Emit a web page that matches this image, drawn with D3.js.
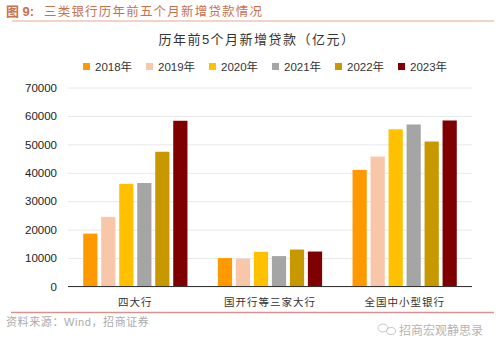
<!DOCTYPE html>
<html><head><meta charset="utf-8">
<script src="https://cdn.jsdelivr.net/npm/d3@7"></script>
<style>html,body{margin:0;background:#fff}svg{display:block}text{font-family:"Liberation Sans","Noto Sans CJK SC",sans-serif}</style>
</head><body><svg width="500" height="352"></svg>
<script>
const categories=["四大行","国开行等三家大行","全国中小型银行"];
const years=["2018年","2019年","2020年","2021年","2022年","2023年"];
const colors=["#FF9900","#F8C6A8","#FFC000","#A5A5A5","#C89800","#7F0000"];
const v2018=[18600,10000,41000];
const v2019=[24500,9800,45700];
const v2020=[36100,12200,55300];
const v2021=[36400,10700,57000];
const v2022=[47400,13000,51000];
const v2023=[58300,12300,58400];
const seriesValues=[v2018,v2019,v2020,v2021,v2022,v2023];
const yTicks=[0,10000,20000,30000,40000,50000,60000,70000];

const svg=d3.select("svg");
const y=d3.scaleLinear().domain([0,70000]).range([286.5,87.5]);
const x0=d3.scaleBand().domain(categories).range([68,472]);
const x1=d3.scaleBand().domain(years).range([0,x0.bandwidth()]).paddingInner(0.21).paddingOuter(0.845);

svg.append("text").attr("x",6).attr("y",16).attr("font-size",13).attr("fill","#C8714F").attr("font-weight","bold").text("图 9:");
svg.append("text").attr("x",44).attr("y",16).attr("font-size",12.5).attr("fill","#C8714F").attr("letter-spacing",1.2).text("三类银行历年前五个月新增贷款情况");
svg.append("line").attr("x1",12).attr("x2",494).attr("y1",21).attr("y2",21).attr("stroke","#E0A98F").attr("stroke-width",1);

svg.append("text").attr("x",257).attr("y",44).attr("text-anchor","middle").attr("font-size",13).attr("fill","#333").attr("letter-spacing",1.5).text("历年前5个月新增贷款（亿元）");

const legendX=d3.scaleBand().domain(years).range([82,460]).padding(0);
const lg=svg.append("g").selectAll("g").data(years).join("g").attr("transform",d=>`translate(${legendX(d)},0)`);
lg.append("rect").attr("x",1).attr("y",63).attr("width",7).attr("height",7).attr("fill",(d,i)=>colors[i]);
lg.append("text").attr("x",13).attr("y",71).attr("font-size",11.5).attr("fill","#333").text(d=>d);

const axis=svg.append("g").attr("transform","translate(68,0)").call(d3.axisLeft(y).tickValues(yTicks).tickSize(0).tickPadding(11).tickFormat(d3.format("d")));
axis.select(".domain").remove();
axis.selectAll("text").attr("font-size",11.5).attr("fill","#222").style("font-family",'"Liberation Sans",sans-serif');
axis.selectAll("line").attr("x2",404).attr("stroke","#E8E8E8").attr("stroke-width",1);

const groups=svg.append("g").selectAll("g").data(years).join("g").attr("fill",(d,i)=>colors[i]);
groups.selectAll("rect").data((d,i)=>categories.map((c,j)=>({c,year:d,v:seriesValues[i][j]}))).join("rect")
 .attr("x",d=>x0(d.c)+x1(d.year)).attr("width",x1.bandwidth())
 .attr("y",d=>y(d.v)).attr("height",d=>y(0)-y(d.v));

svg.append("line").attr("x1",68).attr("x2",472).attr("y1",y(0)).attr("y2",y(0)).attr("stroke","#333").attr("stroke-width",1);

svg.append("g").selectAll("text").data(categories).join("text")
 .attr("x",d=>x0(d)+x0.bandwidth()/2).attr("y",306).attr("text-anchor","middle").attr("font-size",10.5).attr("fill","#333").attr("letter-spacing",1).text(d=>d);

svg.append("line").attr("x1",11).attr("x2",494).attr("y1",312.5).attr("y2",312.5).attr("stroke","#D9918F").attr("stroke-width",1.3);
svg.append("text").attr("x",6).attr("y",326).attr("font-size",11).attr("letter-spacing",0.6).attr("fill","#ABABAB").text("资料来源：Wind，招商证券");

const wm=svg.append("g").attr("fill","none").attr("stroke","#C8C8C8").attr("stroke-width",1);
wm.append("ellipse").attr("cx",383).attr("cy",328).attr("rx",5).attr("ry",4);
wm.append("ellipse").attr("cx",391).attr("cy",331).attr("rx",4.5).attr("ry",3.5);
svg.append("text").attr("x",399).attr("y",335).attr("font-size",12).attr("fill","#B5B5B5").text("招商宏观静思录");
</script></body></html>
